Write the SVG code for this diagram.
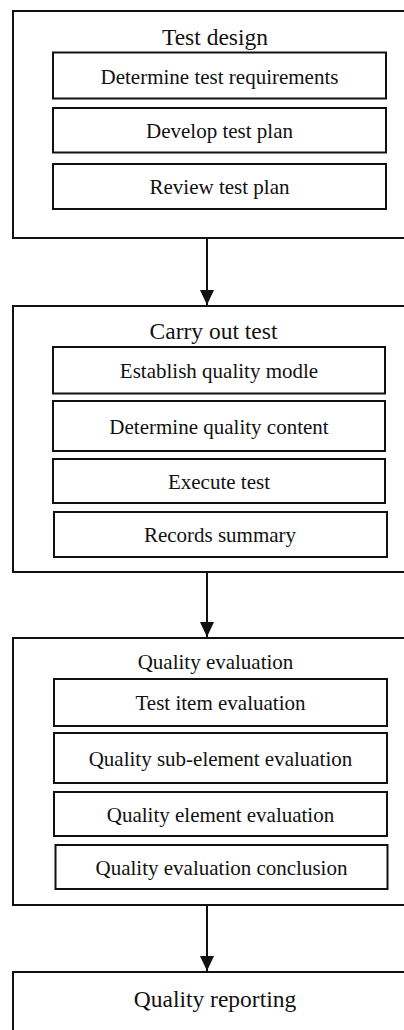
<svg xmlns="http://www.w3.org/2000/svg" width="404" height="1030" viewBox="0 0 404 1030" font-family="'Liberation Serif', 'Times New Roman', Tinos, 'DejaVu Serif', serif">
<defs>
<style>
.outer{fill:#fff;stroke:#111;stroke-width:2}
.inner{fill:#fff;stroke:#111;stroke-width:2}
.t{fill:#111;text-anchor:middle}
.title{font-size:23.5px}
.item{font-size:21px}
.conn{stroke:#111;stroke-width:2;fill:none;marker-end:url(#ah)}
</style>
<marker id="ah" markerUnits="userSpaceOnUse" markerWidth="15" markerHeight="14" refX="15" refY="7" orient="auto">
<path d="M0,0 L15,7 L0,14 Z" fill="#111"/>
</marker>
</defs>
<rect width="404" height="1030" fill="#fff"/>

<g id="test-design">
<rect class="outer" x="13" y="11" width="400" height="227"/>
<text class="t title" x="215" y="44.5">Test design</text>
<g id="determine-test-requirements">
<rect class="inner" x="53" y="52.5" width="333" height="46"/>
<text class="t item" x="219.5" y="83.5">Determine test requirements</text>
</g>
<g id="develop-test-plan">
<rect class="inner" x="53" y="108" width="333" height="44.5"/>
<text class="t item" x="219.5" y="138">Develop test plan</text>
</g>
<g id="review-test-plan">
<rect class="inner" x="53" y="164" width="333" height="45"/>
<text class="t item" x="219.5" y="194">Review test plan</text>
</g>
</g>

<g id="carry-out-test">
<rect class="outer" x="13" y="306" width="400" height="266"/>
<text class="t title" x="213.5" y="338.5">Carry out test</text>
<g id="establish-quality-modle">
<rect class="inner" x="53" y="347" width="332" height="46.5"/>
<text class="t item" x="219" y="377.5">Establish quality modle</text>
</g>
<g id="determine-quality-content">
<rect class="inner" x="53" y="401" width="332" height="50"/>
<text class="t item" x="219" y="433.5">Determine quality content</text>
</g>
<g id="execute-test">
<rect class="inner" x="53" y="459" width="332" height="44"/>
<text class="t item" x="219" y="488.5">Execute test</text>
</g>
<g id="records-summary">
<rect class="inner" x="54" y="512" width="333" height="45"/>
<text class="t item" x="220" y="542">Records summary</text>
</g>
</g>

<g id="quality-evaluation">
<rect class="outer" x="13" y="638" width="400" height="267"/>
<text class="t item" x="215.5" y="669">Quality evaluation</text>
<g id="test-item-evaluation">
<rect class="inner" x="54" y="679" width="333" height="47"/>
<text class="t item" x="220.5" y="710">Test item evaluation</text>
</g>
<g id="quality-sub-element-evaluation">
<rect class="inner" x="54" y="733" width="333" height="50"/>
<text class="t item" x="220.5" y="765.5">Quality sub-element evaluation</text>
</g>
<g id="quality-element-evaluation">
<rect class="inner" x="54" y="792" width="333" height="44"/>
<text class="t item" x="220.5" y="821.5">Quality element evaluation</text>
</g>
<g id="quality-evaluation-conclusion">
<rect class="inner" x="55.5" y="845" width="332" height="44"/>
<text class="t item" x="221.5" y="874.5">Quality evaluation conclusion</text>
</g>
</g>

<g id="quality-reporting">
<rect class="outer" x="13" y="972" width="400" height="80"/>
<text class="t title" x="215" y="1006.5">Quality reporting</text>
</g>

<g id="connectors">
<line class="conn" x1="207" y1="238" x2="207" y2="305"/>
<line class="conn" x1="207" y1="572" x2="207" y2="637"/>
<line class="conn" x1="207" y1="905" x2="207" y2="971"/>
</g>
</svg>
